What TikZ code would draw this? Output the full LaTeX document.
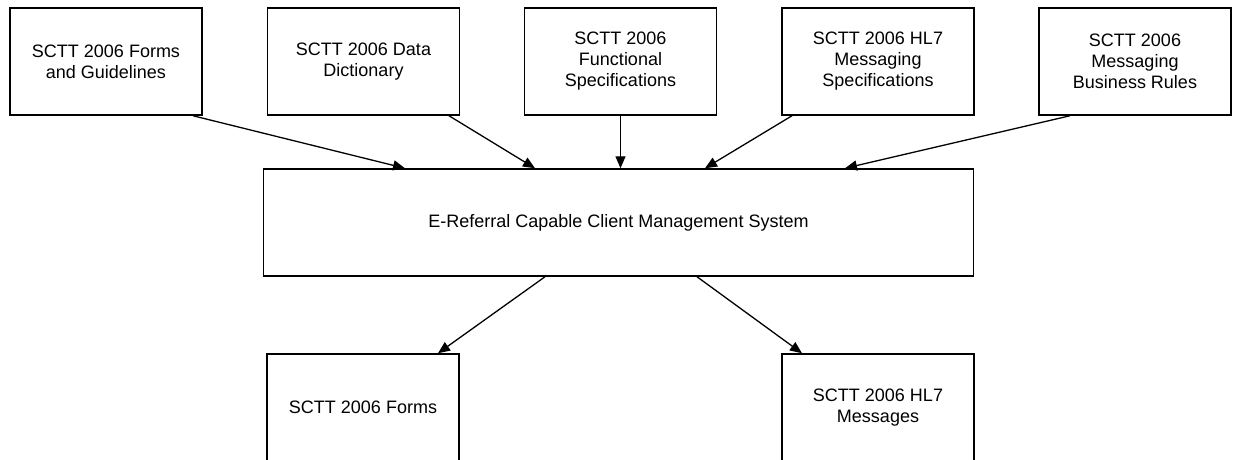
\documentclass[tikz,border=0pt]{standalone}
\usepackage{fontspec}
\setmainfont{Liberation Sans}
\usetikzlibrary{arrows.meta}

\begin{document}
\begin{tikzpicture}[
        x=1pt, y=-1pt,
        line width=1.5pt,
        doc/.style={draw=black, minimum width=192pt, minimum height=107pt, inner sep=0pt, align=center, font=\fontsize{18}{21}\selectfont},
        feed/.style={-{Triangle[length=12pt,width=10pt]}, line width=1.3pt},
      ]

      \useasboundingbox (0,0) rectangle (1237,459);

      \node[doc] (forms)  at (106, 61.5)  {SCTT 2006 Forms\\and Guidelines};
      \node[doc] (dict)   at (363.5, 61.5) {SCTT 2006 Data\\Dictionary};
      \node[doc] (func)   at (620.5, 61.5) {SCTT 2006\\Functional\\Specifications};
      \node[doc] (hlspec) at (878, 61.5)  {SCTT 2006 HL7\\Messaging\\Specifications};
      \node[doc] (rules)  at (1135, 61.5) {SCTT 2006\\Messaging\\Business Rules};

      \node[doc, minimum width=710pt] (cms) at (618.5, 222.5) {E-Referral Capable Client Management System};

      \node[doc] (outforms) at (363, 407.5) {SCTT 2006 Forms};
      \node[doc] (outmsg)   at (878, 407.5) {SCTT 2006 HL7\\Messages};

      \draw[feed] ([xshift=87pt]forms.south)   -- ([xshift=-213.5pt]cms.north);
      \draw[feed] ([xshift=85.5pt]dict.south)  -- ([xshift=-83.5pt]cms.north);
      \draw[feed] (func.south) -- (func.south |- cms.north);
      \draw[feed] ([xshift=-86pt]hlspec.south) -- ([xshift=86.5pt]cms.north);
      \draw[feed] ([xshift=-65pt]rules.south)  -- ([xshift=226.5pt]cms.north);

      \draw[feed] ([xshift=-73.5pt]cms.south) -- ([xshift=75pt]outforms.north);
      \draw[feed] ([xshift=78.5pt]cms.south)  -- ([xshift=-76pt]outmsg.north);

    \end{tikzpicture}
\end{document}
